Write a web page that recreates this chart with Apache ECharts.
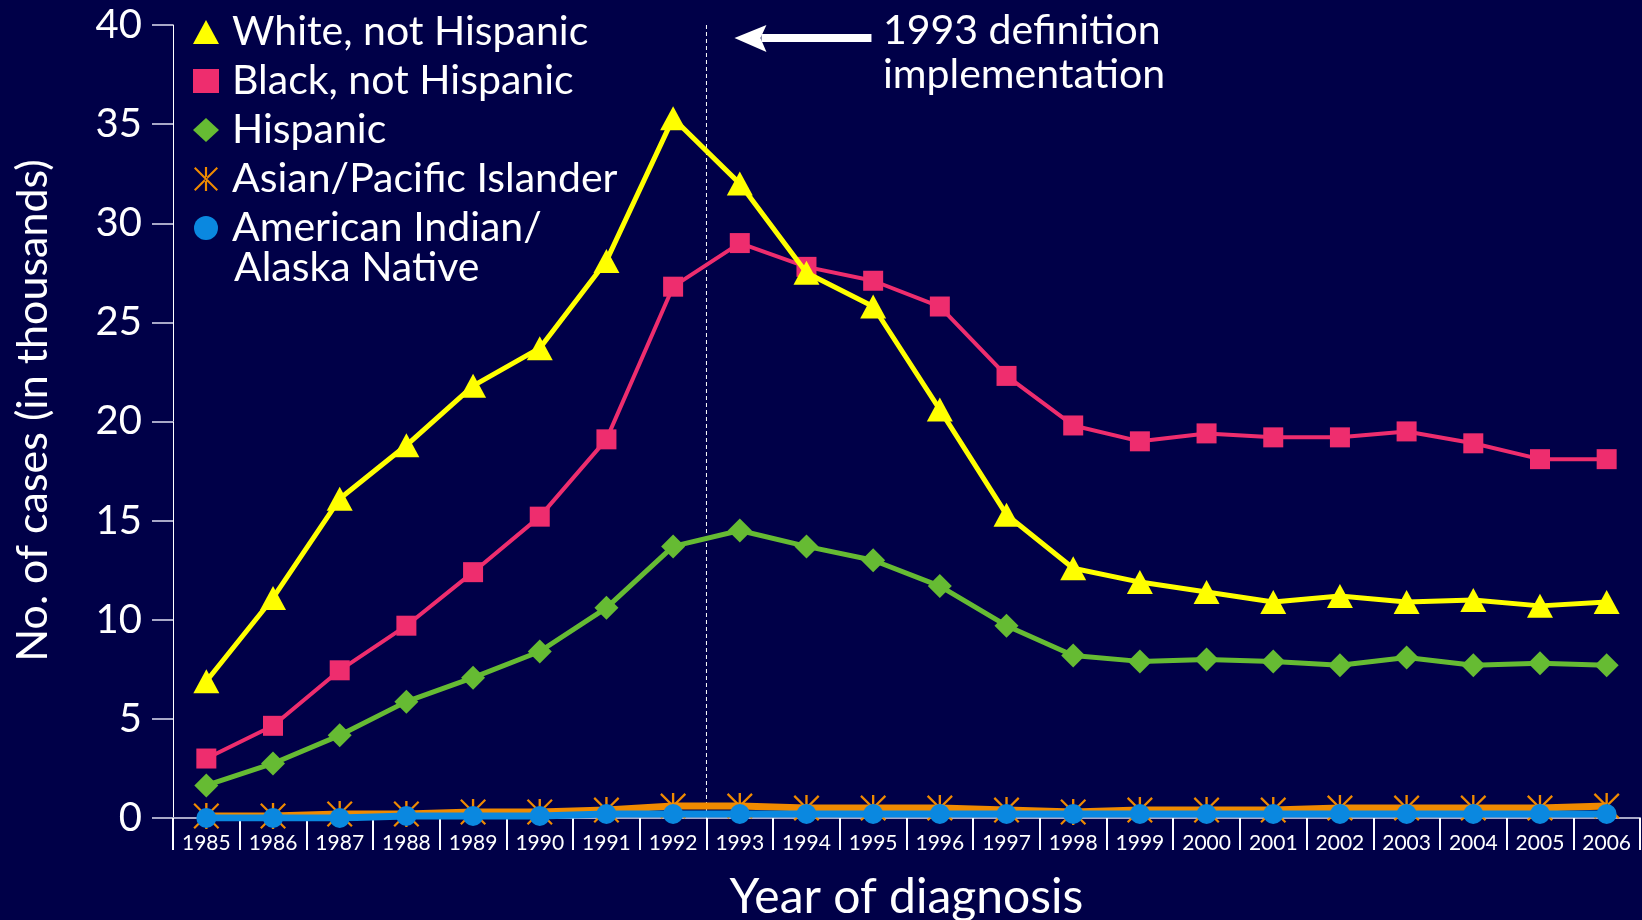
<!DOCTYPE html>
<html>
<head>
<meta charset="utf-8">
<script src="https://cdn.jsdelivr.net/npm/echarts@6/dist/echarts.min.js"></script>
<style>
html,body{margin:0;padding:0;background:#000048;}
#chart{width:1642px;height:920px;}
</style>
</head>
<body>
<div id="chart"></div>
<script>
const years = ['1985','1986','1987','1988','1989','1990','1991','1992','1993','1994','1995','1996','1997','1998','1999','2000','2001','2002','2003','2004','2005','2006'];
const white = [6.9,11.1,16.1,18.8,21.8,23.7,28.1,35.3,32.0,27.5,25.8,20.6,15.3,12.6,11.9,11.4,10.9,11.2,10.9,11.0,10.7,10.9];
const black = [3.0,4.65,7.45,9.7,12.4,15.2,19.1,26.8,29.0,27.8,27.1,25.8,22.3,19.8,19.0,19.4,19.2,19.2,19.5,18.9,18.1,18.1];
const hispanic = [1.64,2.75,4.17,5.87,7.08,8.4,10.6,13.7,14.5,13.7,13.0,11.7,9.7,8.2,7.9,8.0,7.9,7.7,8.1,7.7,7.8,7.7];
const asian = [0.1,0.1,0.2,0.2,0.3,0.3,0.4,0.6,0.6,0.5,0.5,0.5,0.4,0.3,0.4,0.4,0.4,0.5,0.5,0.5,0.5,0.6];
const amIndian = [0.0,0.0,0.0,0.1,0.1,0.1,0.2,0.2,0.2,0.2,0.2,0.2,0.2,0.2,0.2,0.2,0.2,0.2,0.2,0.2,0.2,0.2];
const seriesNames = ['White, not Hispanic','Black, not Hispanic','Hispanic','Asian/Pacific Islander','American Indian/Alaska Native'];
const yTicks = {min:0, max:40, interval:5};
const FONT = 'Lato, "Noto Sans", sans-serif';
const asterisk = 'path://M4.55,0 L5.45,0 L5.45,10 L4.55,10 Z M0,0.6 L0.6,0 L10,9.4 L9.4,10 Z M10,0.6 L9.4,0 L0,9.4 L0.6,10 Z';

const chart = echarts.init(document.getElementById('chart'));
const colors = ['#ffff00','#ee2d6e','#66bb33','#f08a00','#0a88e0'];

const option = {
  backgroundColor: '#000048',
  animation: false,
  grid: {left: 173, right: 2, top: 25, bottom: 102, containLabel: false, outerBoundsMode: 'none'},
  legend: {
    left: 193, top: 10, orient: 'vertical', itemGap: 5, padding: 0,
    itemWidth: 26, itemHeight: 24,
    textStyle: {color: '#ffffff', fontSize: 41, fontFamily: FONT, padding: [0,0,0,8], lineHeight: 44},
    formatter: function(n){ return n === seriesNames[4] ? 'American Indian/' : n; },
    data: [
      {name: seriesNames[0], icon: 'triangle'},
      {name: seriesNames[1], icon: 'rect'},
      {name: seriesNames[2], icon: 'diamond'},
      {name: seriesNames[3], icon: asterisk},
      {name: seriesNames[4], icon: 'circle'}
    ]
  },
  xAxis: {
    type: 'category', data: years, boundaryGap: true,
    name: 'Year of diagnosis', nameLocation: 'middle', nameGap: 56,
    nameTextStyle: {color: '#ffffff', fontSize: 48, fontFamily: FONT},
    axisLine: {lineStyle: {color: '#a8a8c8', width: 2}},
    axisTick: {show: true, interval: 0, length: 32, lineStyle: {color: '#ffffff', width: 2}},
    axisLabel: {color: '#ffffff', fontSize: 21, fontFamily: FONT, margin: 15, interval: 0},
    splitLine: {show: false}
  },
  yAxis: {
    type: 'value', min: yTicks.min, max: yTicks.max, interval: yTicks.interval,
    name: 'No. of cases (in thousands)', nameLocation: 'middle', nameGap: 118,
    nameTextStyle: {color: '#ffffff', fontSize: 43, fontFamily: FONT, padding: [0,0,0,22]},
    axisLine: {show: true, lineStyle: {color: '#ffffff', width: 1}},
    axisTick: {show: true, length: 21, lineStyle: {color: '#a8a8c8', width: 2}},
    axisLabel: {color: '#ffffff', fontSize: 40, fontFamily: FONT, margin: 31},
    splitLine: {show: false}
  },
  series: [
    {name: seriesNames[0], type: 'line', data: white, symbol: 'triangle', symbolSize: [26,24],
      itemStyle: {color: colors[0]}, lineStyle: {color: colors[0], width: 5}, z: 5},
    {name: seriesNames[1], type: 'line', data: black, symbol: 'rect', symbolSize: 20,
      itemStyle: {color: colors[1]}, lineStyle: {color: colors[1], width: 4}, z: 4},
    {name: seriesNames[2], type: 'line', data: hispanic, symbol: 'diamond', symbolSize: 24,
      itemStyle: {color: colors[2]}, lineStyle: {color: colors[2], width: 5}, z: 3},
    {name: seriesNames[3], type: 'line', data: asian, symbol: asterisk, symbolSize: 26,
      itemStyle: {color: colors[3]}, lineStyle: {color: colors[3], width: 7}, z: 6},
    {name: seriesNames[4], type: 'line', data: amIndian, symbol: 'circle', symbolSize: 20,
      itemStyle: {color: colors[4]}, lineStyle: {color: colors[4], width: 7}, z: 7}
  ]
};
chart.setOption(option);

// dashed line at boundary between 1992 and 1993
const x92 = chart.convertToPixel({xAxisIndex: 0}, '1992');
const x93 = chart.convertToPixel({xAxisIndex: 0}, '1993');
const xb = (x92 + x93) / 2;
const yTop = chart.convertToPixel({yAxisIndex: 0}, 40);
const yBot = chart.convertToPixel({yAxisIndex: 0}, 0);
chart.setOption({
  graphic: [
    {type: 'line', shape: {x1: xb, y1: yTop, x2: xb, y2: yBot}, style: {stroke: '#ffffff', lineWidth: 1, lineDash: [4,3]}, z: 1},
    {type: 'rect', shape: {x: xb + 55, y: 34, width: 110, height: 8}, style: {fill: '#ffffff'}, z: 10},
    {type: 'polygon', shape: {points: [[xb + 28, 38],[xb + 60, 25],[xb + 54, 38],[xb + 60, 52]]}, style: {fill: '#ffffff'}, z: 10},
    {type: 'text', left: 883, top: 10, style: {text: '1993 definition', fill: '#ffffff', font: '41px ' + FONT}, z: 10},
    {type: 'text', left: 883, top: 54, style: {text: 'implementation', fill: '#ffffff', font: '41px ' + FONT}, z: 10},
    {type: 'text', left: 234, top: 247, style: {text: 'Alaska Native', fill: '#ffffff', font: '41px ' + FONT}, z: 10}
  ]
});
</script>
</body>
</html>
